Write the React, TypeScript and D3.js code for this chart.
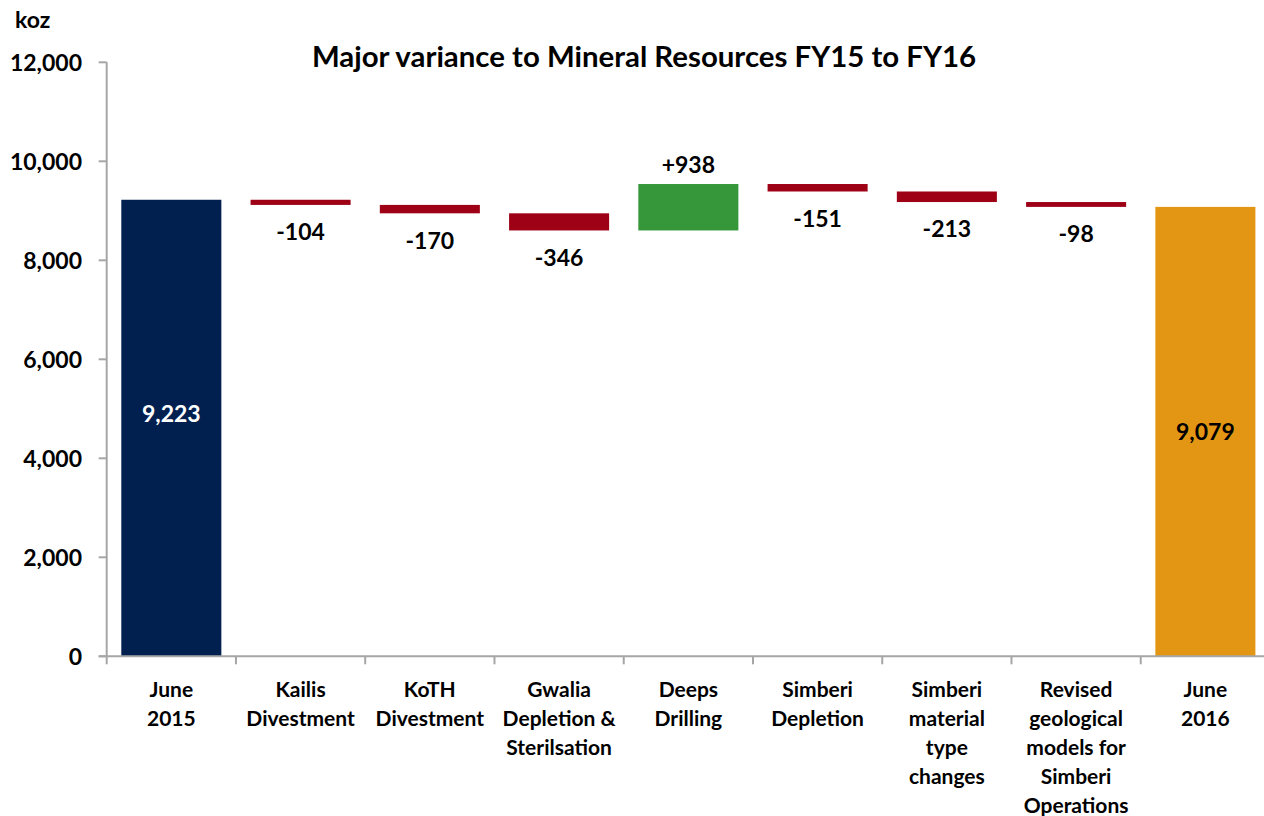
import React, { useRef, useEffect } from 'react'
import * as d3 from 'd3'

// categories (multi-line labels as shown under the axis)
const categories = [
  ['June', '2015'],
  ['Kailis', 'Divestment'],
  ['KoTH', 'Divestment'],
  ['Gwalia', 'Depletion &', 'Sterilsation'],
  ['Deeps', 'Drilling'],
  ['Simberi', 'Depletion'],
  ['Simberi', 'material', 'type', 'changes'],
  ['Revised', 'geological', 'models for', 'Simberi', 'Operations'],
  ['June', '2016'],
]
const values = [9223, -104, -170, -346, 938, -151, -213, -98, 9079]
const kinds = ['start', 'delta', 'delta', 'delta', 'delta', 'delta', 'delta', 'delta', 'end']
const yTicks = [0, 2000, 4000, 6000, 8000, 10000, 12000]

const FONT = 'Lato, "Open Sans", sans-serif'

const App = () => {
  const svgRef = useRef(null)

  useEffect(() => {
    const w = 1264
    const h = 816
    const svg = d3.select(svgRef.current)
    svg.selectAll('*').remove()
    svg.attr('width', w).attr('height', h).style('display', 'block').style('background', '#fff')

    const left = 106.7
    const right = 1270
    const top = 62.3
    const bottom = 656.3

    const x = d3.scaleBand().domain(categories.map((_, i) => String(i))).range([left, right]).padding(0)
    const y = d3.scaleLinear().domain([0, 12000]).range([bottom, top])
    const barW = x.bandwidth() * 0.774

    // waterfall spans
    let run = 0
    const rows = values.map((v, i) => {
      let lo, hi
      if (kinds[i] === 'delta') {
        lo = Math.min(run, run + v)
        hi = Math.max(run, run + v)
        run += v
      } else {
        lo = 0
        hi = v
        run = v
      }
      return { i, v, lo, hi, kind: kinds[i] }
    })

    const color = d => d.kind === 'start' ? '#012050' : d.kind === 'end' ? '#E39613' : d.v < 0 ? '#9E0016' : '#36963A'

    const g = svg.append('g')

    g.selectAll('rect.bar')
      .data(rows)
      .join('rect')
      .attr('class', 'bar')
      .attr('x', d => x(String(d.i)) + (x.bandwidth() - barW) / 2)
      .attr('width', barW)
      .attr('y', d => y(d.hi))
      .attr('height', d => y(d.lo) - y(d.hi))
      .attr('fill', color)

    // axes
    const axisColor = '#a6a6a6'
    g.append('line')
      .attr('x1', left).attr('x2', left)
      .attr('y1', y(12000)).attr('y2', bottom)
      .attr('stroke', axisColor).attr('stroke-width', 2)
    g.append('line')
      .attr('x1', left - 8).attr('x2', w)
      .attr('y1', bottom).attr('y2', bottom)
      .attr('stroke', axisColor).attr('stroke-width', 2)

    g.selectAll('line.ytick')
      .data(yTicks)
      .join('line')
      .attr('class', 'ytick')
      .attr('x1', left - 8).attr('x2', left)
      .attr('y1', d => y(d)).attr('y2', d => y(d))
      .attr('stroke', axisColor).attr('stroke-width', 2)

    g.selectAll('text.ylab')
      .data(yTicks)
      .join('text')
      .attr('class', 'ylab')
      .attr('x', 82)
      .attr('y', d => y(d))
      .attr('dy', '0.36em')
      .attr('text-anchor', 'end')
      .style('font-family', FONT)
      .style('font-weight', 700)
      .style('font-size', '23px')
      .text(d => d3.format(',')(d))

    const bounds = categories.map((_, i) => x(String(i)))
    g.selectAll('line.xtick')
      .data(bounds)
      .join('line')
      .attr('class', 'xtick')
      .attr('x1', d => d).attr('x2', d => d)
      .attr('y1', bottom).attr('y2', bottom + 8)
      .attr('stroke', axisColor).attr('stroke-width', 2)

    categories.forEach((lines, i) => {
      const t = g.append('text')
        .attr('text-anchor', 'middle')
        .style('font-family', FONT)
        .style('font-weight', 700)
        .style('font-size', '21px')
      lines.forEach((ln, k) => {
        t.append('tspan')
          .attr('x', x(String(i)) + x.bandwidth() / 2)
          .attr('y', 697 + k * 29)
          .text(ln)
      })
    })

    // value labels
    g.selectAll('text.val')
      .data(rows)
      .join('text')
      .attr('class', 'val')
      .attr('x', d => x(String(d.i)) + x.bandwidth() / 2)
      .attr('y', d => {
        if (d.kind === 'start') return y(d.hi / 2) - 14
        if (d.kind === 'end') return y(d.hi / 2)
        if (d.v < 0) return y(d.lo) + 27
        return y(d.hi) - 19
      })
      .attr('dy', '0.36em')
      .attr('text-anchor', 'middle')
      .attr('fill', d => d.kind === 'start' ? '#fff' : '#000')
      .style('font-family', FONT)
      .style('font-weight', 700)
      .style('font-size', '23px')
      .text(d => d.kind === 'delta' ? (d.v > 0 ? '+' : '') + d.v : d3.format(',')(d.v))

    // title + unit
    svg.append('text')
      .attr('x', 644).attr('y', 67)
      .attr('text-anchor', 'middle')
      .style('font-family', FONT)
      .style('font-weight', 700)
      .style('font-size', '29.4px')
      .text('Major variance to Mineral Resources FY15 to FY16')

    svg.append('text')
      .attr('x', 15).attr('y', 28)
      .style('font-family', FONT)
      .style('font-weight', 700)
      .style('font-size', '23px')
      .text('koz')
  }, [])

  return (
    <div style={{ position: 'absolute', left: 0, top: 0 }}>
      <svg ref={svgRef}></svg>
    </div>
  )
}

export default App
